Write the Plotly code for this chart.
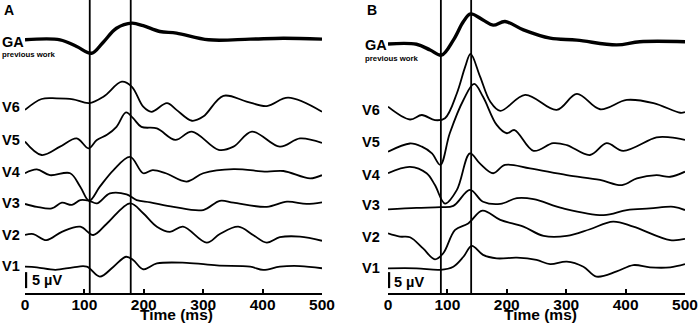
import plotly.graph_objects as go

# ---------------- DATA (time in ms, amplitude in µV relative to each trace baseline) -------------
labels = ["GA", "V6", "V5", "V4", "V3", "V2", "V1"]
offsets_uv = [71, 50, 40, 30, 20, 10, 0]          # vertical stacking offsets (µV)
offsets_uv_b = [70, 50, 40, 30, 20, 10, 0]

# Panel A
a_ga_t = [0, 59, 87, 112, 131, 154, 180, 199, 227, 255, 309, 379, 435, 500]
a_ga_v = [0, 0, -2.1, -4.2, -0.9, 3.6, 5.2, 4.4, 2.6, 2.1, 0, 0.2, 0.5, 0.2]

a_v6_t = [0, 28, 53, 81, 108, 132, 163, 180, 199, 213, 239, 255, 281, 300, 334, 373, 407, 443, 500]
a_v6_v = [-0.9, 2.5, 2.7, 2.4, 1.2, 3.2, 7.9, 6.3, 0.1, -1.5, 1.2, -0.9, -4.3, -3.0, 3.5, 1.7, 0.3, 2.9, -1.5]

a_v5_t = [0, 28, 59, 87, 107, 121, 138, 154, 170, 182, 196, 222, 253, 281, 326, 351, 382, 429, 463, 500]
a_v5_v = [-0.8, -5.0, -2.4, 0.2, -2.9, -0.3, 1.3, 3.8, 8.3, 6.5, 3.8, 3.3, -0.3, 2.3, -3.4, -2.4, 2.3, -2.4, 0.2, -1.2]

a_v4_t = [0, 20, 42, 76, 93, 108, 126, 149, 177, 199, 215, 237, 272, 300, 351, 407, 435, 480, 500]
a_v4_v = [-0.7, 0.5, -1.3, -0.7, -4.9, -9.3, -4.9, 0.3, 4.4, -0.7, 0.3, -0.7, -3.3, -0.7, 0.6, -0.2, 0, -2.3, -1.3]

a_v3_t = [0, 20, 45, 62, 79, 93, 108, 121, 143, 171, 188, 211, 250, 300, 328, 351, 407, 441, 474, 500]
a_v3_v = [-0.3, -1.2, -1.7, 0.1, -0.6, 0.9, 0.7, -0.1, 3.0, 2.7, 0.9, 0.2, -1.2, -2.2, 0.7, 0.1, -1.2, 0.4, -0.3, 0.2]

a_v2_t = [0, 14, 36, 62, 93, 115, 138, 177, 199, 222, 244, 266, 306, 328, 359, 384, 407, 429, 463, 500]
a_v2_v = [0, 0.3, -1.6, 1.0, 2.6, 0, 3.6, 9.9, 6.8, 2.6, 1.0, 2.6, -2.4, 0.3, 2.6, 0, -2.4, -0.7, -0.5, -1.8]

a_v1_t = [0, 20, 51, 81, 104, 126, 149, 170, 182, 199, 222, 272, 323, 379, 401, 429, 463, 500]
a_v1_v = [0.1, -0.1, -0.9, -0.1, 0.1, -3.0, 0.1, 3.2, 2.2, -0.7, 1.1, 1.3, 0.5, 0.1, -0.9, 0.1, 0.3, -0.4]

# Panel B
b_ga_t = [0, 48, 71, 90, 110, 127, 139, 160, 177, 197, 228, 273, 318, 385, 424, 500]
b_ga_v = [-0.3, -0.4, -2.2, -3.8, 0.9, 6.7, 9.1, 7.2, 5.6, 6.7, 4.1, 1.5, 0.9, -0.6, 0.4, 0.4]

b_v6_t = [0, 37, 57, 79, 96, 116, 130, 139, 155, 172, 189, 231, 284, 318, 357, 402, 447, 492, 500]
b_v6_v = [0.1, -3.9, -2.5, -4.1, -3.5, 4.3, 12.6, 16.6, 9.5, 1.7, -1.2, 3.8, -0.9, 4.1, -0.7, 2.2, 1.2, -1.8, -1.6]

b_v5_t = [0, 37, 57, 74, 88, 104, 127, 145, 160, 183, 200, 213, 245, 278, 301, 340, 368, 396, 452, 475, 500]
b_v5_v = [-4.0, -1.4, -2.4, -4.5, -8.1, 1.8, 12.2, 17.2, 13.2, 4.4, 1.8, 2.8, -3.7, -1.3, -1.9, -5.0, -1.3, -3.7, 0.5, 0.5, -0.3]

b_v4_t = [0, 37, 65, 79, 96, 116, 138, 155, 177, 197, 239, 301, 357, 394, 419, 452, 475, 500]
b_v4_v = [-0.7, 1.3, -0.7, -4.4, -10.2, -5.9, 5.5, 2.3, -0.7, 1.9, 0.8, -1.3, -2.8, -4.4, -2.3, -1.3, -1.8, -0.2]

b_v3_t = [0, 48, 88, 110, 138, 160, 189, 217, 245, 295, 363, 402, 441, 481, 500]
b_v3_v = [-2.0, -1.5, -1.3, -0.9, 4.1, 0.4, -0.3, 1.5, 1.2, -1.7, -3.8, -2.2, -1.7, -1.2, -2.2]

b_v2_t = [0, 20, 37, 59, 79, 93, 113, 135, 159, 189, 228, 262, 301, 340, 379, 413, 475, 500]
b_v2_v = [0.5, -0.5, -0.7, -4.2, -7.6, -5.7, 1.6, 3.6, 7.6, 4.7, 2.6, -0.3, -0.3, 1.8, 4.2, 2.6, -1.6, -1.2]

b_v1_t = [0, 48, 88, 110, 127, 141, 160, 183, 217, 250, 273, 301, 329, 351, 385, 413, 441, 475, 500]
b_v1_v = [-0.4, -0.4, -0.9, 0.1, 3.2, 6.6, 3.8, 2.7, 2.9, 2.2, 0.9, 1.7, 0.1, -3.0, -1.4, 0.6, -0.1, -0.1, 0.9]

markers_a = [109, 178]     # vertical reference lines (ms)
markers_b = [89, 140]
tick_vals = [0, 100, 200, 300, 400, 500]
scale_uv = 5

# ---------------- FIGURE ----------------
W, H = 700, 327
MB = 34
PH = H - MB          # plot height in px
PXPERUV = 3.2
y_lo = -(293 - 267) / PXPERUV
y_hi = 267 / PXPERUV
FONT = "Liberation Sans, Arial, sans-serif"

panels = [
    ("x", "y", offsets_uv, [(a_ga_t, a_ga_v), (a_v6_t, a_v6_v), (a_v5_t, a_v5_v), (a_v4_t, a_v4_v),
                            (a_v3_t, a_v3_v), (a_v2_t, a_v2_v), (a_v1_t, a_v1_v)], markers_a),
    ("x2", "y2", offsets_uv_b, [(b_ga_t, b_ga_v), (b_v6_t, b_v6_v), (b_v5_t, b_v5_v), (b_v4_t, b_v4_v),
                                (b_v3_t, b_v3_v), (b_v2_t, b_v2_v), (b_v1_t, b_v1_v)], markers_b),
]

fig = go.Figure()
shapes = []
for xa, ya, offs, series, marks in panels:
    for i, (t, v) in enumerate(series):
        fig.add_trace(go.Scatter(
            x=t, y=[vv + offs[i] for vv in v], mode="lines",
            line=dict(color="black", width=3.4 if i == 0 else 1.8, shape="spline", smoothing=1.0),
            xaxis=xa, yaxis=ya, showlegend=False, hoverinfo="skip"))
    yref_dom = ya + " domain"
    for m in marks:
        shapes.append(dict(type="line", xref=xa, yref=yref_dom, x0=m, x1=m, y0=0, y1=1,
                           line=dict(color="black", width=1.8)))
    # scale bar
    shapes.append(dict(type="line", xref=xa, yref=ya, x0=1.5, x1=1.5,
                       y0=-1.6 - scale_uv, y1=-1.6, line=dict(color="black", width=2.6)))


def py2paper(py):
    return (PH - py) / PH


ann = []
a_label_py = [41.5, 107, 140, 172, 203, 235, 266]
b_label_py = [44.5, 110, 141.5, 175, 205, 236.5, 268.3]
for lbls_py, x0 in ((a_label_py, 0), (b_label_py, 360)):
    for i, lab in enumerate(labels):
        xx = x0 + (3 if lab == "GA" and x0 > 0 else 0)
        ann.append(dict(text=lab, x=xx / W, y=py2paper(lbls_py[i]), xref="paper", yref="paper",
                        xanchor="left", yanchor="middle", showarrow=False,
                        font=dict(family=FONT, size=14.5, color="black", weight="bold")))
ann.append(dict(text="previous work", x=0 / W, y=py2paper(54.5), xref="paper", yref="paper",
                xanchor="left", yanchor="middle", showarrow=False,
                font=dict(family=FONT, size=7.8, color="black", weight="bold")))
ann.append(dict(text="previous work", x=363 / W, y=py2paper(58.5), xref="paper", yref="paper",
                xanchor="left", yanchor="middle", showarrow=False,
                font=dict(family=FONT, size=7.8, color="black", weight="bold")))
for txt, px, py in (("A", 9, 10), ("B", 372, 9.5)):
    ann.append(dict(text=txt, x=px / W, y=py2paper(py), xref="paper", yref="paper",
                    xanchor="center", yanchor="middle", showarrow=False,
                    font=dict(family=FONT, size=14, color="black", weight="bold")))
for px, py in ((30, 280), (392, 281.5)):
    ann.append(dict(text="5 µV", x=px / W, y=py2paper(py), xref="paper", yref="paper",
                    xanchor="left", yanchor="middle", showarrow=False,
                    font=dict(family=FONT, size=14.5, color="black", weight="bold")))
for px in (176, 540):
    ann.append(dict(text="Time (ms)", x=px / W, y=py2paper(314), xref="paper", yref="paper",
                    xanchor="center", yanchor="middle", showarrow=False,
                    font=dict(family=FONT, size=15.5, color="black", weight="bold")))

xcommon = dict(range=[0, 500], showline=True, linecolor="black", linewidth=2.2,
               ticks="inside", ticklen=4, tickwidth=2, tickcolor="black",
               tickvals=tick_vals, ticktext=[str(v) for v in tick_vals],
               tickfont=dict(family=FONT, size=15.5, color="black", weight="bold"),
               ticklabelstandoff=-4, automargin=False,
               showgrid=False, zeroline=False, fixedrange=True)
ycommon = dict(range=[y_lo, y_hi], visible=False, showgrid=False, zeroline=False,
               fixedrange=True, automargin=False)

fig.update_layout(
    width=W, height=H, margin=dict(l=0, r=0, t=0, b=MB, autoexpand=False),
    paper_bgcolor="white", plot_bgcolor="white",
    xaxis=dict(domain=[25 / W, 322 / W], anchor="y", **xcommon),
    xaxis2=dict(domain=[388 / W, 685 / W], anchor="y2", **xcommon),
    yaxis=dict(domain=[0, 1], anchor="x", **ycommon),
    yaxis2=dict(domain=[0, 1], anchor="x2", **ycommon),
    shapes=shapes, annotations=ann, showlegend=False,
)

fig.write_html("out.html", config={"displayModeBar": False},
               post_script="document.body.style.margin='0';document.body.style.overflow='hidden';")
